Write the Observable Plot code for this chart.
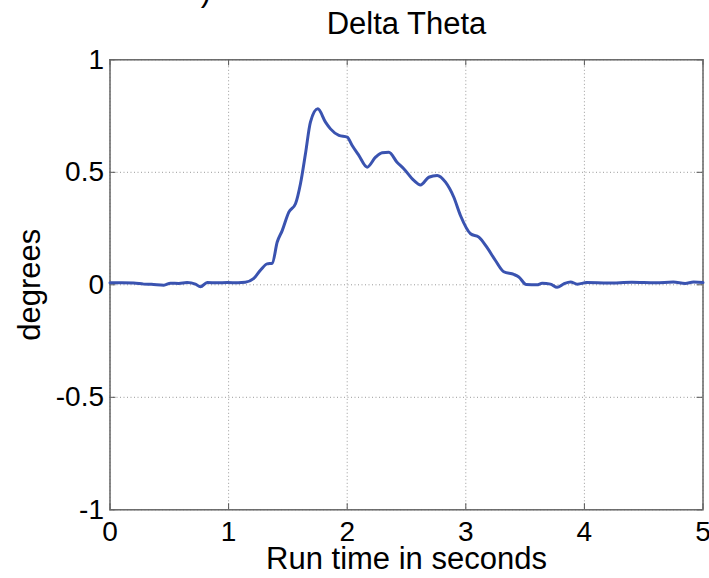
<!DOCTYPE html>
<html>
<head>
<meta charset="utf-8">
<script src="https://cdn.jsdelivr.net/npm/d3@7"></script>
<script src="https://cdn.jsdelivr.net/npm/@observablehq/plot@0.6"></script>
<style>
  html, body { margin: 0; padding: 0; background: #fff; }
  svg { display: block; }
</style>
</head>
<body>
<div id="chart"></div>
<script>
const timeSec = [0, 0.1, 0.2, 0.285, 0.35, 0.454, 0.51, 0.58, 0.65, 0.72, 0.763, 0.82, 0.9, 0.99, 1.08, 1.14, 1.21, 1.27, 1.325, 1.368, 1.41, 1.452, 1.508, 1.564, 1.606, 1.648, 1.69, 1.752, 1.817, 1.859, 1.93, 2.0, 2.042, 2.098, 2.168, 2.239, 2.295, 2.351, 2.42, 2.477, 2.562, 2.618, 2.688, 2.759, 2.829, 2.899, 2.955, 3.04, 3.11, 3.18, 3.25, 3.32, 3.405, 3.447, 3.51, 3.6, 3.644, 3.714, 3.77, 3.826, 3.883, 3.94, 4.02, 4.2, 4.4, 4.6, 4.75, 4.85, 4.92, 5.0];
const deltaTheta = [0.009, 0.009, 0.008, 0.003, 0.002, -0.002, 0.007, 0.006, 0.01, 0.003, -0.009, 0.01, 0.009, 0.01, 0.009, 0.011, 0.027, 0.066, 0.093, 0.096, 0.19, 0.241, 0.323, 0.36, 0.449, 0.582, 0.723, 0.782, 0.723, 0.693, 0.664, 0.656, 0.619, 0.575, 0.523, 0.567, 0.587, 0.589, 0.545, 0.516, 0.464, 0.444, 0.478, 0.486, 0.456, 0.389, 0.308, 0.227, 0.212, 0.165, 0.108, 0.058, 0.046, 0.035, 0.001, 0.0, 0.007, 0.003, -0.011, 0.004, 0.013, 0.003, 0.01, 0.008, 0.011, 0.009, 0.012, 0.006, 0.012, 0.01];
const xTicks = [0, 1, 2, 3, 4, 5];
const yTicks = [-1, -0.5, 0, 0.5, 1];
const yTickLabels = ["-1", "-0.5", "0", "0.5", "1"];
const titleText = "Delta Theta";
const xLabel = "Run time in seconds";
const yLabel = "degrees";

const data = timeSec.map((t, i) => ({t, v: deltaTheta[i]}));
const xTickLen = 0.05, yTickLen = 0.027;
const font = "'Liberation Sans', Arial, Helvetica, sans-serif";

const chart = Plot.plot({
  width: 709,
  height: 578,
  marginLeft: 109.5,
  marginRight: 6.5,
  marginTop: 59.3,
  marginBottom: 68.7,
  style: {fontFamily: font, fontSize: "28px", background: "#fff", color: "#000", overflow: "visible"},
  x: {domain: [0, 5]},
  y: {domain: [-1, 1]},
  marks: [
    Plot.gridX(xTicks, {stroke: "#999", strokeOpacity: 1, strokeDasharray: "1,2.5", strokeWidth: 1}),
    Plot.gridY(yTicks, {stroke: "#999", strokeOpacity: 1, strokeDasharray: "1,2.5", strokeWidth: 1}),
    Plot.ruleX(xTicks, {x: d => d, y1: -1, y2: -1 + yTickLen, stroke: "#555", strokeWidth: 1}),
    Plot.ruleX(xTicks, {x: d => d, y1: 1, y2: 1 - yTickLen, stroke: "#555", strokeWidth: 1}),
    Plot.ruleY(yTicks, {y: d => d, x1: 0, x2: xTickLen, stroke: "#555", strokeWidth: 1}),
    Plot.ruleY(yTicks, {y: d => d, x1: 5, x2: 5 - xTickLen, stroke: "#555", strokeWidth: 1}),
    Plot.frame({stroke: "#666", strokeWidth: 1.5}),
    Plot.line(data, {x: "t", y: "v", curve: "monotone-x", stroke: "#3a53b0", strokeWidth: 3, strokeLinejoin: "round", strokeLinecap: "round"}),
    Plot.axisX({ticks: xTicks, tickSize: 0, tickPadding: 11, label: null, fontSize: 28, tickFormat: d => String(d)}),
    Plot.axisY({ticks: yTicks, tickSize: 0, tickPadding: 6, label: null, fontSize: 28, tickFormat: d => yTickLabels[yTicks.indexOf(d)]}),
    Plot.text([titleText], {text: d => d, frameAnchor: "top", lineAnchor: "bottom", dy: -26, fontSize: 31, fill: "#000"}),
    Plot.text([xLabel], {text: d => d, frameAnchor: "bottom", lineAnchor: "bottom", dy: 59, fontSize: 31, fill: "#000"}),
    Plot.text([yLabel], {text: d => d, frameAnchor: "left", rotate: -90, textAnchor: "middle", lineAnchor: "middle", dx: -80, fontSize: 31, fill: "#000"}),
    Plot.text([")"], {text: d => d, frameAnchor: "top-left", lineAnchor: "bottom", textAnchor: "middle", dx: 96, dy: -58.5, fontSize: 31, fill: "#000"})
  ]
});
document.getElementById("chart").appendChild(chart);
</script>
</body>
</html>
